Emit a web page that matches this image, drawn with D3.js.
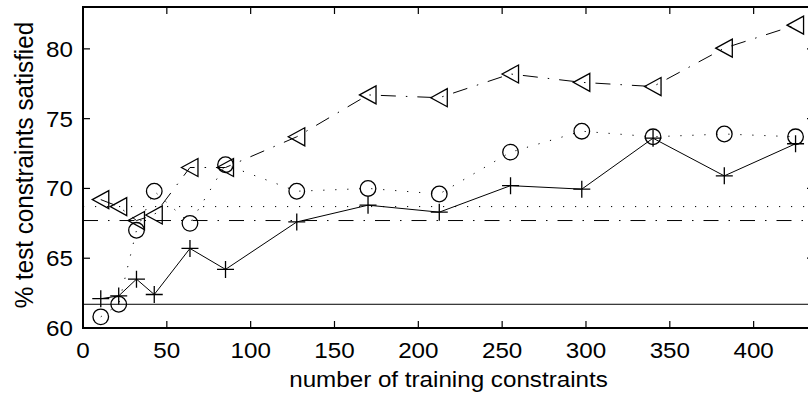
<!DOCTYPE html>
<html>
<head>
<meta charset="utf-8">
<script src="https://cdn.jsdelivr.net/npm/d3@7"></script>
<style>
  body { margin: 0; background: #fff; }
  text { font-family: "Liberation Sans", Arial, sans-serif; fill: #000; }
</style>
</head>
<body>
<svg id="chart" width="808" height="394"></svg>
<script>
// training set sizes (x) and the three result series
const sizes = [10.6, 21.3, 31.9, 42.5, 63.8, 85, 127.5, 170, 212.5, 255, 297.5, 340, 382.5, 425];
const plusSeries = [62.1, 62.3, 63.5, 62.4, 65.7, 64.2, 67.6, 68.8, 68.3, 70.2, 69.95, 73.6, 70.9, 73.2];
const circleSeries = [60.8, 61.7, 67.0, 69.8, 67.5, 71.7, 69.8, 70.0, 69.6, 72.6, 74.1, 73.7, 73.9, 73.7];
const triSeries = [69.2, 68.7, 67.7, 68.1, 71.5, 71.5, 73.7, 76.7, 76.5, 78.2, 77.6, 77.3, 80.05, 81.7];

// baseline levels: solid, dotted, dash-dot
const baseSolid = 61.7;
const baseDotted = 68.7;
const baseDashDot = 67.7;

const xTicks = [0, 50, 100, 150, 200, 250, 300, 350, 400];
const yTicks = [60, 65, 70, 75, 80];

const xLabel = "number of training constraints";
const yLabel = "% test constraints satisfied";

const margin = {top: 7, left: 83, bottom: 66};
const plotRight = 814; // right edge of the box sits just past the window
const height = 394;

const svg = d3.select("svg#chart");

const x = d3.scaleLinear().domain([0, 436]).range([margin.left, plotRight]);
const y = d3.scaleLinear().domain([60, 83]).range([height - margin.bottom, margin.top]);

const DOTTED = "1.2,10.8";
const DASHDOT = "15,10,1.5,10";

// horizontal reference lines
function hline(v, dash) {
  svg.append("line")
    .attr("x1", x(0)).attr("x2", x(436))
    .attr("y1", y(v)).attr("y2", y(v))
    .attr("stroke", "#000")
    .attr("stroke-width", 1)
    .attr("stroke-dasharray", dash);
}
hline(baseSolid, null);
hline(baseDotted, DOTTED);
hline(baseDashDot, DASHDOT);

// series lines
const line = d3.line()
  .x((d, i) => x(sizes[i]))
  .y(d => y(d));

function seriesLine(vals, dash) {
  svg.append("path")
    .datum(vals)
    .attr("fill", "none")
    .attr("stroke", "#000")
    .attr("stroke-width", 1)
    .attr("stroke-dasharray", dash)
    .attr("d", line);
}
seriesLine(plusSeries, null);
seriesLine(circleSeries, DOTTED);
seriesLine(triSeries, DASHDOT);

// markers
const pts = vals => vals.map((v, i) => [x(sizes[i]), y(v)]);

svg.append("g").selectAll("path")
  .data(pts(plusSeries))
  .join("path")
  .attr("d", d => "M" + (d[0] - 8.5) + "," + d[1] + "h17M" + d[0] + "," + (d[1] - 8.5) + "v17")
  .attr("fill", "none")
  .attr("stroke", "#000")
  .attr("stroke-width", 1.3);

svg.append("g").selectAll("circle")
  .data(pts(circleSeries))
  .join("circle")
  .attr("cx", d => d[0])
  .attr("cy", d => d[1])
  .attr("r", 7.8)
  .attr("fill", "none")
  .attr("stroke", "#000")
  .attr("stroke-width", 1.3);

svg.append("g").selectAll("path")
  .data(pts(triSeries))
  .join("path")
  .attr("d", d => "M" + (d[0] - 8.5) + "," + d[1] + "L" + (d[0] + 8) + "," + (d[1] - 9) + "L" + (d[0] + 8) + "," + (d[1] + 9) + "Z")
  .attr("fill", "none")
  .attr("stroke", "#000")
  .attr("stroke-width", 1.3);

// box and inward ticks
const yTop = y(83), yBot = y(60), xL = x(0), xR = plotRight;

svg.append("rect")
  .attr("x", xL).attr("y", yTop)
  .attr("width", xR - xL).attr("height", yBot - yTop)
  .attr("fill", "none")
  .attr("stroke", "#000")
  .attr("stroke-width", 2);

const tickLen = 7;
xTicks.forEach(t => {
  svg.append("line").attr("x1", x(t)).attr("x2", x(t))
    .attr("y1", yBot).attr("y2", yBot - tickLen)
    .attr("stroke", "#000").attr("stroke-width", 1.2);
  svg.append("line").attr("x1", x(t)).attr("x2", x(t))
    .attr("y1", yTop).attr("y2", yTop + tickLen)
    .attr("stroke", "#000").attr("stroke-width", 1.2);
});
yTicks.forEach(t => {
  svg.append("line").attr("x1", xL).attr("x2", xL + tickLen)
    .attr("y1", y(t)).attr("y2", y(t))
    .attr("stroke", "#000").attr("stroke-width", 1.2);
  svg.append("line").attr("x1", xR).attr("x2", xR - tickLen)
    .attr("y1", y(t)).attr("y2", y(t))
    .attr("stroke", "#000").attr("stroke-width", 1.2);
});

// tick labels
const FS = 22;
svg.append("g").selectAll("text")
  .data(xTicks)
  .join("text")
  .attr("transform", d => "translate(" + x(d) + "," + 358 + ") scale(1.1,1)")
  .attr("text-anchor", "middle")
  .style("font-size", FS + "px")
  .text(d => d);

svg.append("g").selectAll("text")
  .data(yTicks)
  .join("text")
  .attr("transform", d => "translate(" + 73 + "," + y(d) + ") scale(1.1,1)")
  .attr("text-anchor", "end")
  .attr("dy", "0.36em")
  .style("font-size", FS + "px")
  .text(d => d);

// axis titles
svg.append("text")
  .attr("transform", "translate(" + ((xL + xR) / 2) + ",387) scale(1.1,1)")
  .attr("text-anchor", "middle")
  .style("font-size", FS + "px")
  .text(xLabel);

svg.append("text")
  .attr("transform", "translate(33,165) scale(1.1,1) rotate(-90)")
  .attr("text-anchor", "middle")
  .style("font-size", "24.2px")
  .text(yLabel);
</script>
</body>
</html>
